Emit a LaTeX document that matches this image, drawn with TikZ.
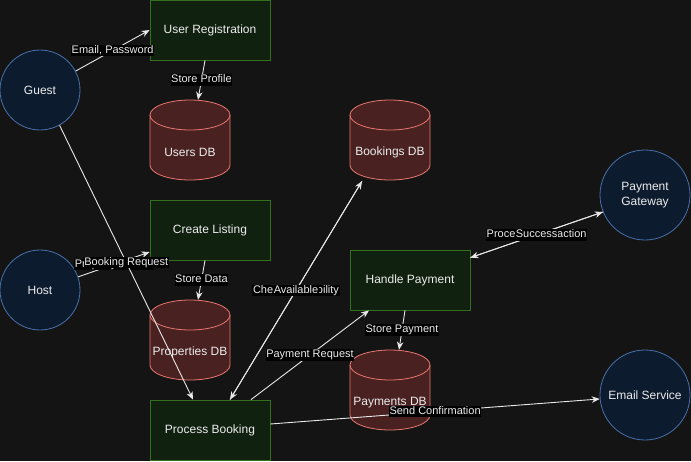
\documentclass[tikz,border=0pt]{standalone}
\usepackage{fontspec}
\setmainfont{Liberation Sans}
\usetikzlibrary{arrows.meta}
\definecolor{bgcol}{RGB}{20,20,20}
\definecolor{txtcol}{RGB}{236,236,236}
\definecolor{linecol}{RGB}{232,232,232}
\definecolor{procfill}{RGB}{17,33,16}
\definecolor{procline}{RGB}{52,112,28}
\definecolor{actfill}{RGB}{12,27,46}
\definecolor{actline}{RGB}{72,112,170}
\definecolor{dbfill}{RGB}{72,33,32}
\definecolor{dbline}{RGB}{234,120,112}
\tikzset{
    txt/.style={text=txtcol, font=\fontsize{12}{15}\selectfont},
    proc/.style={txt, rectangle, draw=procline, fill=procfill, line width=0.8pt,
        minimum width=120pt, minimum height=60pt, inner sep=0pt},
    actor/.style={txt, circle, draw=actline, fill=actfill, line width=0.8pt,
        align=center, inner sep=0pt},
    dbshape/.style={draw=dbline, fill=dbfill, line width=0.8pt},
    dbnode/.style={rectangle, minimum width=80pt, minimum height=80pt, inner sep=0pt},
    flow/.style={draw=linecol, line width=0.9pt,
        -{Stealth[length=8pt,width=6.5pt,inset=2.5pt]}},
    lbl/.style={fill=black, text=txtcol, font=\fontsize{11}{13}\selectfont,
        inner sep=0.6pt, text height=8pt, text depth=2.3pt, pos=0.5},
}
\newcommand{\dbcylinder}[3]{
    \begin{scope}[shift={#2}]
        \filldraw[dbshape] (0,-65) -- (0,-15) .. controls (0,-6.72) and (17.91,0) .. (40,0)
            .. controls (62.09,0) and (80,-6.72) .. (80,-15) -- (80,-65)
            .. controls (80,-73.28) and (62.09,-80) .. (40,-80)
            .. controls (17.91,-80) and (0,-73.28) .. (0,-65) -- cycle;
        \draw[dbshape, fill=none] (0,-65) .. controls (0,-56.72) and (17.91,-50) .. (40,-50)
            .. controls (62.09,-50) and (80,-56.72) .. (80,-65);
        \node[dbnode, label={[txt, yshift=-12.5pt]center:#3}] (#1) at (40,-40) {};
    \end{scope}
}
\begin{document}
\begin{tikzpicture}[x=1pt, y=-1pt]
        \useasboundingbox (0,0) rectangle (691,461);
        \fill[bgcol] (0,0) rectangle (691,461);

        \node[actor, minimum size=80pt] (guest) at (40,90) {Guest};
        \node[actor, minimum size=80pt] (host) at (40,290) {Host};
        \node[actor, minimum size=90pt] (gateway) at (645,195) {Payment\\Gateway};
        \node[actor, minimum size=90pt] (email) at (645,395) {Email Service};

        \node[proc] (userreg) at (210,30) {User Registration};
        \node[proc] (listing) at (210,230) {Create Listing};
        \node[proc] (payment) at (410,280) {Handle Payment};
        \node[proc] (booking) at (210,430) {Process Booking};

        \dbcylinder{usersdb}{(150,180)}{Users DB}
        \dbcylinder{bookdb}{(350,180)}{Bookings DB}
        \dbcylinder{propdb}{(150,380)}{Properties DB}
        \dbcylinder{paydb}{(350,430)}{Payments DB}

        \draw[flow] (guest.28) -- (userreg.west) node[lbl] {Email, Password};
        \draw[flow] ([xshift=-5pt]userreg.south) -- ([xshift=8pt]usersdb.north) node[lbl] {Store Profile};
        \draw[flow] (host.19) -- ([yshift=-22pt]listing.west) node[lbl] {Property Details};
        \draw[flow] ([xshift=-5pt]listing.south) -- ([xshift=8pt]propdb.north) node[lbl] {Store Data};
        \draw[flow] (guest.-61) -- ([xshift=-17pt]booking.north) node[lbl] {Booking Request};
        \draw[flow] ([xshift=20pt]booking.north) -- ([xshift=-28pt,yshift=-1pt]bookdb.south) node[lbl] {Check Availability};
        \draw[flow] ([xshift=-28pt,yshift=-1pt]bookdb.south) -- ([xshift=20pt]booking.north) node[lbl] {Available};
        \draw[flow] ([xshift=41pt]booking.north) -- ([xshift=-41pt]payment.south) node[lbl] {Payment Request};
        \draw[flow] ([yshift=-8pt]payment.north east) -- (gateway.202) node[lbl] {Process Transaction};
        \draw[flow] (gateway.202) -- ([yshift=-8pt]payment.north east) node[lbl] {Success};
        \draw[flow] ([xshift=-5pt]payment.south) -- ([xshift=9pt]paydb.north) node[lbl] {Store Payment};
        \draw[flow] ([yshift=6pt]booking.east) -- (email.185) node[lbl] {Send Confirmation};
    \end{tikzpicture}
\end{document}
